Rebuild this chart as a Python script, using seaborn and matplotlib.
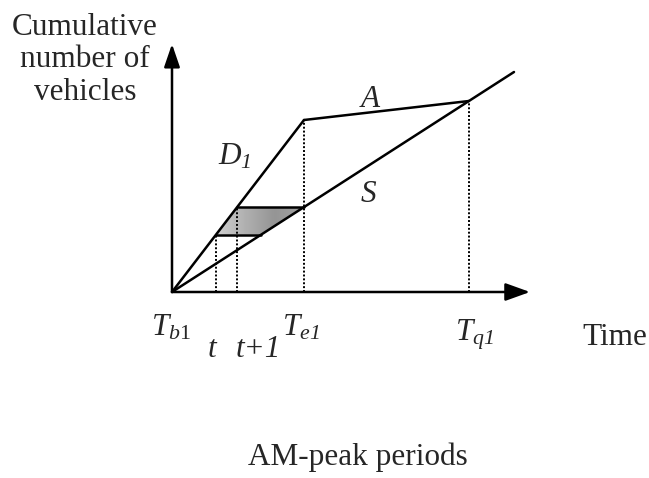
import numpy as np
import pandas as pd
import seaborn as sns
import matplotlib
matplotlib.use("Agg")
import matplotlib.pyplot as plt
from matplotlib.colors import LinearSegmentedColormap
from matplotlib.patches import Polygon

# ---------------- data (time units, cumulative vehicles) ----------------
t_b1 = 0
t_t = 44
t_t1 = 65
t_e1 = 132
t_q1 = 297
t_end = 342

D_time = [0, 132]          # departure-demand curve D1
D_cum = [0, 172]
A_time = [132, 297]        # arrival curve A
A_cum = [172, 191]
S_time = [0, 342]          # service curve S
S_cum = [0, 220]

level_t = 57.3             # cumulative count at t (on D1)
level_t1 = 84.7            # cumulative count at t+1 (on D1)
level_t_on_S = 89          # time where S reaches level_t

tick_positions = [t_b1, t_t, t_t1, t_e1, t_q1]
tick_labels = [r"$T_{\mathit{b}1}$", "t", "t+1",
               r"$T_{\mathsf{e1}}$", r"$T_{\mathsf{q1}}$"]

# ---------------- style ----------------
sns.set_style("white")
plt.rcParams["font.family"] = ["Liberation Serif", "DejaVu Serif"]
plt.rcParams["mathtext.fontset"] = "custom"
plt.rcParams["mathtext.rm"] = "Liberation Serif"
plt.rcParams["mathtext.it"] = "Liberation Serif:italic"
plt.rcParams["mathtext.sf"] = "Liberation Serif:italic"
plt.rcParams["mathtext.bf"] = "Liberation Serif:bold"

FS = 22.5
LW = 1.8

fig = plt.figure(figsize=(6.49, 4.78), dpi=100)
ax = fig.add_axes([0, 0, 1, 1])

# shaded queue area with gradient
poly_pts = [(t_t, level_t), (t_t1, level_t1), (t_e1, level_t1), (level_t_on_S, level_t)]
poly = Polygon(poly_pts, closed=True, facecolor="none", edgecolor="none")
ax.add_patch(poly)
cmap = LinearSegmentedColormap.from_list("shade", ["#d0d0d0", "#b0b0b0", "#959595", "#a2a2a2"])
grad = np.linspace(0, 1, 256).reshape(1, -1)
im = ax.imshow(grad, cmap=cmap, aspect="auto",
               extent=[t_t, t_e1, level_t, level_t1], origin="lower", zorder=1)
im.set_clip_path(poly)

# curves
lines = pd.concat([
    pd.DataFrame({"time": D_time, "cum": D_cum, "curve": "D"}),
    pd.DataFrame({"time": A_time, "cum": A_cum, "curve": "A"}),
    pd.DataFrame({"time": S_time, "cum": S_cum, "curve": "S"}),
    pd.DataFrame({"time": [t_t1, t_e1], "cum": [level_t1, level_t1], "curve": "h1"}),
    pd.DataFrame({"time": [t_t, level_t_on_S], "cum": [level_t, level_t], "curve": "h0"}),
])
sns.lineplot(data=lines, x="time", y="cum", units="curve", estimator=None,
             sort=False, color="black", lw=LW, ax=ax, zorder=3)

# dotted verticals
dots = [(t_t, level_t), (t_t1, level_t1), (t_e1, D_cum[1]), (t_q1, A_cum[1])]
for x, top in dots:
    ax.plot([x, x], [0, top], color="black", lw=1.4, ls=(0, (1, 1.0)), zorder=2)

ax.set_xlim(-172, 477)
ax.set_ylim(-186, 292)
ax.axis("off")

# axes arrows
ax.annotate("", xy=(358, 0), xytext=(0, 0),
            arrowprops=dict(arrowstyle="-|>,head_length=0.75,head_width=0.27",
                            mutation_scale=20, lw=LW, color="black",
                            shrinkA=0, shrinkB=0), zorder=4)
ax.annotate("", xy=(0, 248), xytext=(0, 0),
            arrowprops=dict(arrowstyle="-|>,head_length=0.7,head_width=0.24",
                            mutation_scale=20, lw=LW, color="black",
                            shrinkA=0, shrinkB=0), zorder=4)

# curve labels
ax.text(63, 135, r"$D_{\mathsf{1}}$", fontsize=FS, ha="center", va="center")
ax.text(198, 193, "A", fontsize=FS, ha="center", va="center", style="italic")
ax.text(196, 98, "S", fontsize=FS, ha="center", va="center", style="italic")

# tick labels under the time axis
label_xy = {0: (-1.5, -43), 1: (40, -65), 2: (86, -65), 3: (129, -43), 4: (302, -48)}
for i, (pos, lab) in enumerate(zip(tick_positions, tick_labels)):
    x, y = label_xy[i]
    ax.text(x, y, lab, fontsize=FS, ha="center", va="baseline", style="italic")

ax.text(443, -53, "Time", fontsize=FS, ha="center", va="baseline")
ax.text(-87, 279, "Cumulative\nnumber of\nvehicles", fontsize=FS, ha="center",
        va="top", linespacing=1.15)
ax.text(186, -173, "AM-peak periods", fontsize=FS, ha="center", va="baseline")

fig.savefig("out.png", dpi=100)
